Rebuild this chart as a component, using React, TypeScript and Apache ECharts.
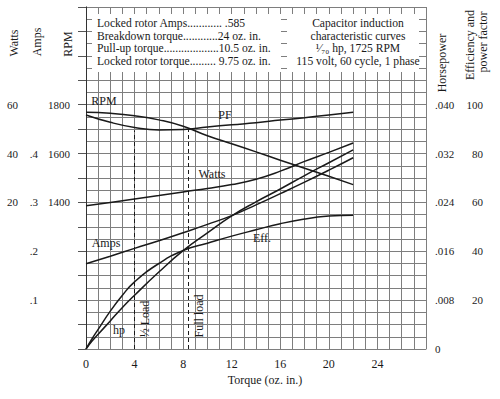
import React, { useEffect, useRef } from "react";
import * as echarts from "echarts";

// ---- data ----
const torque = [0, 2, 4, 6, 8, 10, 12, 14, 16, 18, 20, 22];
const rpm = [1769, 1765, 1755, 1738, 1712, 1673, 1640, 1607, 1573, 1540, 1507, 1473];
const powerFactor = [95.8, 92.8, 90.7, 89.7, 89.9, 90.9, 91.8, 92.6, 93.7, 94.7, 95.8, 96.9];
const watts = [18.6, 20, 21.4, 22.8, 24.3, 25.7, 27.3, 29.5, 32.8, 36.8, 40.5, 44.3];
const amps = [0.1745, 0.19, 0.206, 0.2215, 0.238, 0.255, 0.273, 0.295, 0.318, 0.3415, 0.366, 0.3915];

const torqueFine = [0, 0.5, 1, 2, 3, 4, 6, 8, 10, 12, 14, 16, 18, 20, 22];
const horsepower = [0, 0.0013, 0.0024, 0.0046, 0.0068, 0.0088, 0.0126, 0.0161, 0.019, 0.0218, 0.0241, 0.0262, 0.0284, 0.0305, 0.0326];
const efficiency = [0, 4.2, 8, 15.5, 22, 27.5, 35, 40.3, 43.3, 46.2, 48.8, 51.3, 53.2, 54.4, 54.8];

const xTickLabels = [0, 4, 8, 12, 16, 20, 24];
const wattsTickLabels = [20, 40, 60];
const ampsTickLabels = [0.1, 0.2, 0.3, 0.4];
const rpmTickLabels = [1400, 1600, 1800];
const hpTickLabels = [0, 0.008, 0.016, 0.024, 0.032, 0.04];
const effTickLabels = [20, 40, 60, 80, 100];

const loadTorque = [4, 8.45];
const loadTop = [89.5, 89.8];
const loadLabels = ["\u00BD Load", "Full load"];

const specLines = [
  "Locked rotor Amps............ .585",
  "Breakdown torque............24 oz. in.",
  "Pull-up torque...................10.5 oz. in.",
  "Locked rotor torque......... 9.75 oz. in.",
];
const titleLines = [
  "Capacitor induction",
  "characteristic curves",
  "\u00B9\u2044\u2087\u2080 hp, 1725 RPM",
  "115 volt, 60 cycle, 1 phase",
];

const SERIF = "'Liberation Serif','Times New Roman','DejaVu Serif',serif";
const INK = "#1a1a1a";
const GRID = "#7e7e7e";

const has = (list: number[], v: number) => list.some((t) => Math.abs(t - v) < 1e-6);

function txt(x: number, y: number, text: string, opts: any = {}) {
  const align = opts.align || "center";
  return {
    type: "text",
    x,
    y,
    rotation: opts.rotation || 0,
    z: 20,
    style: {
      text,
      x: 0,
      y: 0,
      font: `${opts.size || 12}px ${SERIF}`,
      fill: INK,
      align,
      textAlign: align,
      verticalAlign: "middle",
      textVerticalAlign: "middle",
    },
  };
}

export default function App() {
  const ref = useRef<HTMLDivElement>(null);

  useEffect(() => {
    if (!ref.current) return;
    const chart = echarts.init(ref.current, undefined, { renderer: "svg" });

    const pair = (xs: number[], ys: number[]) => xs.map((x, i) => [x, ys[i]]);
    const lineStyle = { color: INK, width: 1.5 };
    const labelFont = { fontFamily: SERIF, fontSize: 11, color: INK };

    const graphics: any[] = [
      { type: "rect", z: 15, shape: { x: 92, y: 14, width: 189, height: 58 }, style: { fill: "#fff" } },
      { type: "rect", z: 15, shape: { x: 287, y: 14, width: 132, height: 58 }, style: { fill: "#fff" } },
    ];
    const lineYs = [23.5, 36, 48.5, 61];
    specLines.forEach((s, i) => graphics.push(txt(97, lineYs[i], s, { align: "left", size: 11.6 })));
    titleLines.forEach((s, i) => graphics.push(txt(358, lineYs[i], s, { size: 11.6 })));

    graphics.push(txt(14, 43, "Watts", { rotation: Math.PI / 2 }));
    graphics.push(txt(37, 42, "Amps", { rotation: Math.PI / 2 }));
    graphics.push(txt(68, 44, "RPM", { rotation: Math.PI / 2 }));
    graphics.push(txt(442, 63, "Horsepower", { rotation: Math.PI / 2 }));
    graphics.push(txt(470, 45, "Efficiency and", { rotation: Math.PI / 2 }));
    graphics.push(txt(483, 42, "power factor", { rotation: Math.PI / 2 }));
    graphics.push(txt(265, 380, "Torque (oz. in.)"));

    graphics.push(txt(104, 101, "RPM"));
    graphics.push(txt(225, 115, "PF"));
    graphics.push(txt(212, 174, "Watts"));
    graphics.push(txt(106, 243, "Amps"));
    graphics.push(txt(262, 238, "Eff."));
    graphics.push(txt(119, 330, "hp"));
    graphics.push(txt(145, 319, loadLabels[0], { rotation: Math.PI / 2 }));
    graphics.push(txt(199, 316, loadLabels[1], { rotation: Math.PI / 2 }));

    const noLine = { show: false };

    chart.setOption({
      animation: false,
      backgroundColor: "#fff",
      grid: { left: 86, top: 7, width: 340, height: 342, containLabel: false },
      xAxis: {
        type: "value",
        min: 0,
        max: 28,
        interval: 4,
        axisLine: { show: true, lineStyle: { color: GRID, width: 1 } },
        axisTick: { show: false },
        splitLine: { show: true, lineStyle: { color: GRID, width: 1 } },
        minorTick: { show: false, splitNumber: 4 },
        minorSplitLine: { show: true, lineStyle: { color: GRID, width: 1 } },
        axisLabel: {
          ...labelFont,
          fontSize: 12,
          margin: 9,
          formatter: (v: number) => (has(xTickLabels, v) ? String(v) : ""),
        },
      },
      yAxis: [
        {
          type: "value",
          position: "right",
          min: 0,
          max: 140,
          interval: 20,
          axisLine: { show: true, lineStyle: { color: GRID, width: 1 } },
          axisTick: { show: false },
          splitLine: { show: true, lineStyle: { color: GRID, width: 1 } },
          minorTick: { show: false, splitNumber: 4 },
          minorSplitLine: { show: true, lineStyle: { color: GRID, width: 1 } },
          axisLabel: {
            ...labelFont,
            align: "right",
            margin: 57,
            formatter: (v: number) => (has(effTickLabels, v) ? String(v) : ""),
          },
        },
        {
          type: "value",
          position: "right",
          min: 0,
          max: 0.056,
          interval: 0.008,
          axisLine: noLine,
          axisTick: noLine,
          splitLine: noLine,
          axisLabel: {
            ...labelFont,
            align: "left",
            margin: 9,
            formatter: (v: number) => {
              if (!has(hpTickLabels, v)) return "";
              const n = Math.round(v * 1000);
              return n === 0 ? "0" : "." + String(n).padStart(3, "0");
            },
          },
        },
        {
          type: "value",
          position: "left",
          min: 800,
          max: 2200,
          interval: 100,
          axisLine: { show: true, lineStyle: { color: "#333", width: 1 } },
          axisTick: { show: true, length: 8, lineStyle: { color: "#555", width: 1 } },
          splitLine: noLine,
          axisLabel: {
            ...labelFont,
            margin: 16,
            formatter: (v: number) => (has(rpmTickLabels, v) ? String(v) : ""),
          },
        },
        {
          type: "value",
          position: "left",
          min: 0,
          max: 0.7,
          interval: 0.1,
          axisLine: noLine,
          axisTick: noLine,
          splitLine: noLine,
          axisLabel: {
            ...labelFont,
            margin: 48,
            formatter: (v: number) => (has(ampsTickLabels, v) ? "." + Math.round(v * 10) : ""),
          },
        },
        {
          type: "value",
          position: "left",
          min: -40,
          max: 100,
          interval: 20,
          axisLine: noLine,
          axisTick: noLine,
          splitLine: noLine,
          axisLabel: {
            ...labelFont,
            margin: 68,
            formatter: (v: number) => (has(wattsTickLabels, v) ? String(v) : ""),
          },
        },
      ],
      series: [
        {
          name: "PF",
          type: "line",
          yAxisIndex: 0,
          data: pair(torque, powerFactor),
          smooth: true,
          showSymbol: false,
          lineStyle,
          z: 5,
          markLine: {
            silent: true,
            symbol: ["none", "none"],
            label: { show: false },
            lineStyle: { color: INK, width: 1, type: [4, 3] },
            data: loadTorque.map((t, i) => [{ coord: [t, 0] }, { coord: [t, loadTop[i]] }]),
          },
        },
        { name: "RPM", type: "line", yAxisIndex: 2, data: pair(torque, rpm), smooth: true, showSymbol: false, lineStyle, z: 5 },
        { name: "Watts", type: "line", yAxisIndex: 4, data: pair(torque, watts), smooth: true, showSymbol: false, lineStyle, z: 5 },
        { name: "Amps", type: "line", yAxisIndex: 3, data: pair(torque, amps), smooth: true, showSymbol: false, lineStyle, z: 5 },
        { name: "hp", type: "line", yAxisIndex: 1, data: pair(torqueFine, horsepower), smooth: true, showSymbol: false, lineStyle, z: 5 },
        { name: "Eff.", type: "line", yAxisIndex: 0, data: pair(torqueFine, efficiency), smooth: true, showSymbol: false, lineStyle, z: 5 },
      ],
      graphic: { elements: graphics },
    });

    return () => chart.dispose();
  }, []);

  return (
    <div
      ref={ref}
      style={{ position: "fixed", left: 0, top: 0, width: 500, height: 399, background: "#fff" }}
    />
  );
}
